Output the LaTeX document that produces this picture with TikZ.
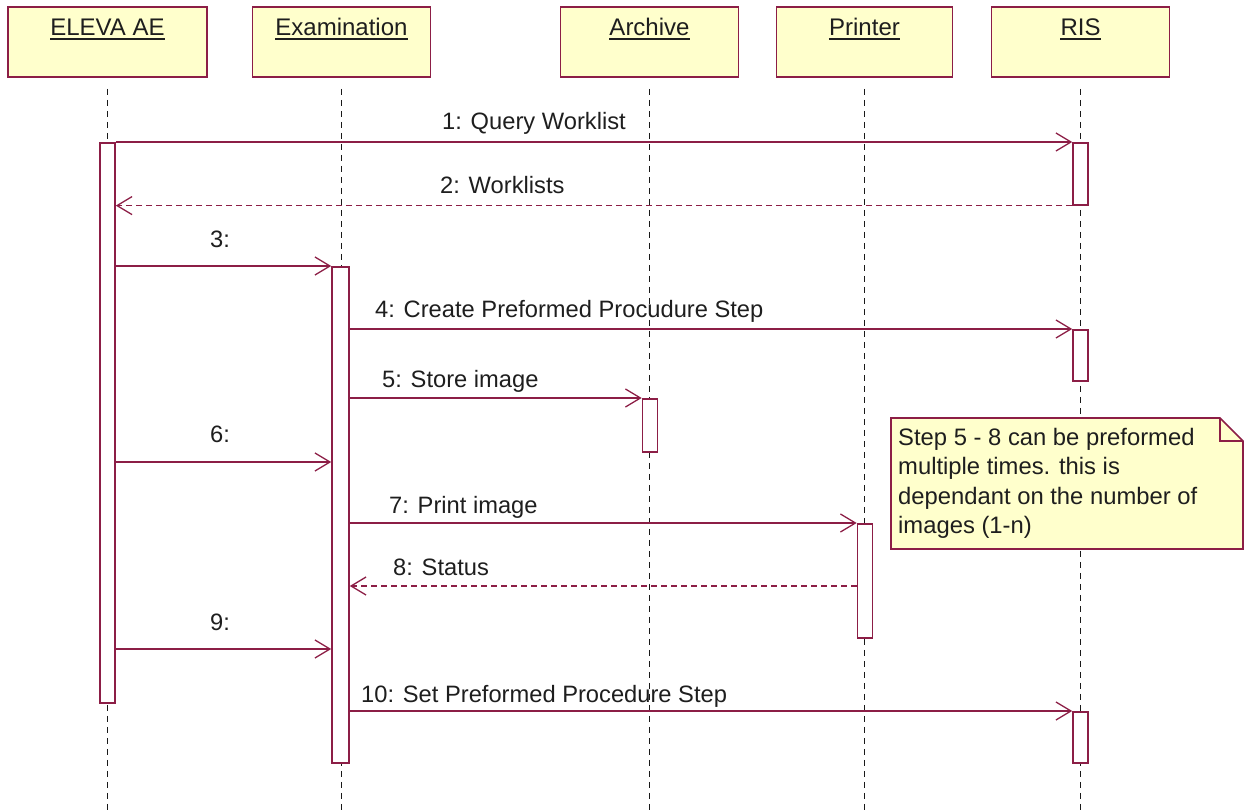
\documentclass[tikz,border=0pt]{standalone}
\usepackage{fontspec}
\setmainfont{Liberation Sans}
\usetikzlibrary{arrows.meta}
\definecolor{uml}{RGB}{140,30,70}
\definecolor{umlfill}{RGB}{255,255,204}
\definecolor{txt}{RGB}{30,30,30}
\begin{document}
\begin{tikzpicture}[x=1pt,y=-1pt,
  headbox/.style={draw=uml,fill=umlfill,line width=1.8pt,minimum height=70pt,inner sep=0pt},
  headtxt/.style={text=txt,inner sep=0pt,anchor=base,font=\fontsize{24}{28}\selectfont},
  life/.style={draw=black!90,line width=1.8pt,dash pattern=on 6pt off 5pt},
  actbar/.style={draw=uml,fill=white,line width=1.6pt,minimum width=15pt,inner sep=0pt,anchor=north},
  msg/.style={draw=uml,line width=1.8pt,-{Straight Barb[length=15pt,width=18pt,line width=1.3pt]}},
  ret/.style={msg,dash pattern=on 6pt off 4pt},
  lbl/.style={text=txt,inner sep=0pt,anchor=base west,font=\fontsize{23.7}{28}\selectfont}]
\useasboundingbox (0,0) rectangle (1250,810);

% heads
\node[headbox,minimum width=199pt] (hE) at (107.5,42) {};
\node[headbox,minimum width=178pt] (hX) at (341.5,42) {};
\node[headbox,minimum width=178pt] (hA) at (649.5,42) {};
\node[headbox,minimum width=176pt] (hP) at (864.5,42) {};
\node[headbox,minimum width=178pt] (hR) at (1080.5,42) {};
\foreach \n/\x/\t in {tE/107.5/ELEVA AE,tX/341.5/Examination,tA/649.5/Archive,tP/864.5/Printer,tR/1080.5/RIS}{
  \node[headtxt] (\n) at (\x,36) {\t};
  \draw[txt,line width=1.5pt] ([yshift=-3pt]\n.base west) -- ([yshift=-3pt]\n.base east);
}

% lifeline ends
\coordinate (eE) at (107.5,812);
\coordinate (eX) at (341.5,812);
\coordinate (eA) at (649.5,812);
\coordinate (eP) at (864.5,812);
\coordinate (eR) at (1080.5,812);
\foreach \h/\e in {hE/eE,hX/eX,hA/eA,hP/eP,hR/eR}{
  \draw[life,shorten <=11pt] (\h.south) -- (\e);
}

% activation bars
\node[actbar,minimum height=560pt] (bE) at (107.5,142) {};
\node[actbar,minimum height=496pt,minimum width=17pt] (bX) at (340.5,266) {};
\node[actbar,minimum height=62pt] (bR1) at (1080.5,142) {};
\node[actbar,minimum height=51pt] (bR2) at (1080.5,329) {};
\node[actbar,minimum height=53pt] (bA) at (650,398) {};
\node[actbar,minimum height=114pt] (bP) at (865,523) {};
\node[actbar,minimum height=51pt] (bR3) at (1080.5,711) {};

% helper coordinates
\coordinate (c6) at (0,462);
\coordinate (c8) at (0,586);
\coordinate (c9) at (0,649);

% messages
\draw[msg] (bE.north east) -- (bR1.north west);
\draw[ret] (bR1.south west) -- (bE.east |- bR1.south);
\draw[msg] (bE.east |- bX.north) -- (bX.north west);
\draw[msg] (bX.east |- bR2.north) -- (bR2.north west);
\draw[msg] (bX.east |- bA.north) -- (bA.north west);
\draw[msg] (bE.east |- c6) -- (bX.west |- c6);
\draw[msg] (bX.east |- bP.north) -- (bP.north west);
\draw[ret] (bP.west |- c8) -- (bX.east |- c8);
\draw[msg] (bE.east |- c9) -- (bX.west |- c9);
\draw[msg] (bX.east |- bR3.north) -- (bR3.north west);

% labels
\node[lbl] (l1) at (442,130) {1: Query Worklist};
\node[lbl] (l2) at (440,194) {2: Worklists};
\node[lbl] (l3) at (210,248) {3:};
\node[lbl] (l4) at (375,317) {4: Create Preformed Procudure Step};
\node[lbl] (l5) at (382,387) {5: Store image};
\node[lbl] (l6) at (210,442) {6:};
\node[lbl] (l7) at (389,513) {7: Print image};
\node[lbl] (l8) at (393,575) {8: Status};
\node[lbl] (l9) at (210,630) {9:};
\node[lbl] (l10) at (361,702) {10: Set Preformed Procedure Step};

% note
\draw[draw=uml,fill=umlfill,line width=1.6pt] (891,418) -- (1220,418) -- (1243,441) -- (1243,549) -- (891,549) -- cycle;
\draw[draw=uml,line width=1.6pt] (1220,418) -- (1220,441) -- (1243,441);
\node[text=txt,inner sep=0pt,anchor=north west,align=left,font=\fontsize{23.8}{29.5}\selectfont] (note) at (898,428)
  {Step 5 - 8 can be preformed\\multiple times. this is\\dependant on the number of\\images (1-n)};
\end{tikzpicture}
\end{document}
